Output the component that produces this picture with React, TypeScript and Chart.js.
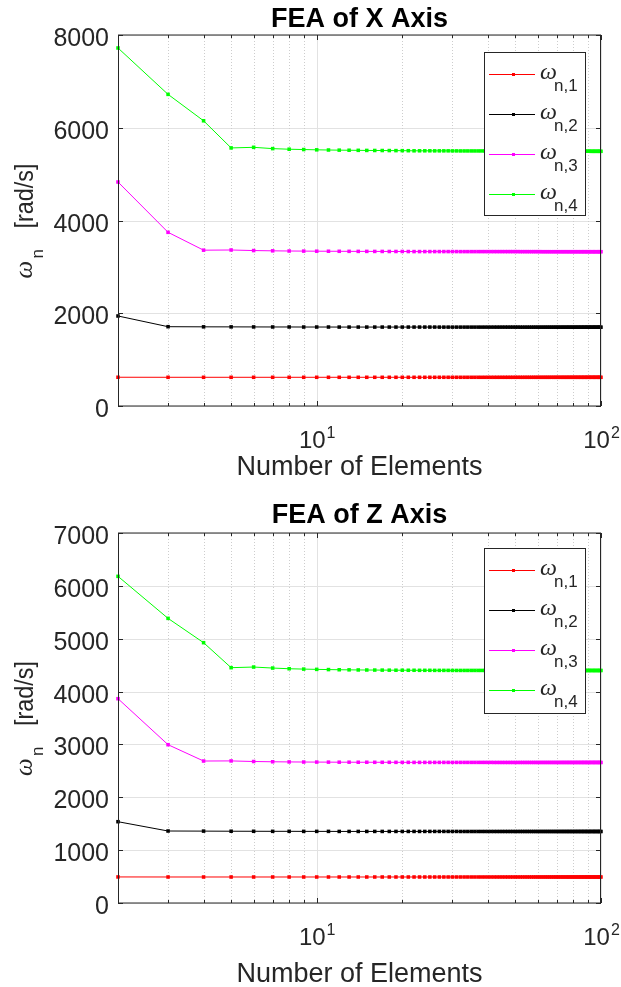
import React, { useEffect, useRef } from "react";
import { Chart, registerables } from "chart.js";

Chart.register(...registerables);

// ---------- data ----------
const elementCounts = [
  2, 3, 4, 5, 6, 7, 8, 9, 10, 11,
  12, 13, 14, 15, 16, 17, 18, 19, 20, 21,
  22, 23, 24, 25, 26, 27, 28, 29, 30, 31,
  32, 33, 34, 35, 36, 37, 38, 39, 40, 41,
  42, 43, 44, 45, 46, 47, 48, 49, 50, 51,
  52, 53, 54, 55, 56, 57, 58, 59, 60, 61,
  62, 63, 64, 65, 66, 67, 68, 69, 70, 71,
  72, 73, 74, 75, 76, 77, 78, 79, 80, 81,
  82, 83, 84, 85, 86, 87, 88, 89, 90, 91,
  92, 93, 94, 95, 96, 97, 98, 99, 100,
];

const xAxisWn1 = [
  620, 619, 619, 619, 619, 619, 619, 619, 619, 619,
  619, 619, 619, 619, 619, 619, 619, 619, 619, 619,
  619, 619, 619, 619, 619, 619, 619, 619, 619, 619,
  619, 619, 619, 619, 619, 619, 619, 619, 619, 619,
  619, 619, 619, 619, 619, 619, 619, 619, 619, 619,
  619, 619, 619, 619, 619, 619, 619, 619, 619, 619,
  619, 619, 619, 619, 619, 619, 619, 619, 619, 619,
  619, 619, 619, 619, 619, 619, 619, 619, 619, 619,
  619, 619, 619, 619, 619, 619, 619, 619, 619, 619,
  619, 619, 619, 619, 619, 619, 619, 619, 619,
];
const xAxisWn2 = [
  1941, 1710, 1707, 1706, 1705, 1704, 1704, 1703, 1703, 1703,
  1702, 1702, 1702, 1702, 1702, 1702, 1702, 1702, 1702, 1702,
  1702, 1702, 1702, 1702, 1702, 1701, 1701, 1701, 1701, 1701,
  1701, 1701, 1701, 1701, 1701, 1701, 1701, 1701, 1701, 1701,
  1701, 1701, 1701, 1701, 1701, 1701, 1701, 1701, 1701, 1701,
  1700, 1700, 1700, 1700, 1700, 1700, 1700, 1700, 1700, 1700,
  1700, 1700, 1700, 1700, 1700, 1700, 1700, 1700, 1700, 1700,
  1700, 1700, 1700, 1700, 1700, 1700, 1700, 1700, 1700, 1700,
  1700, 1700, 1700, 1700, 1700, 1700, 1700, 1700, 1700, 1700,
  1700, 1700, 1700, 1700, 1700, 1700, 1700, 1700, 1700,
];
const xAxisWn3 = [
  4830, 3745, 3360, 3364, 3352, 3346, 3342, 3340, 3338, 3337,
  3336, 3335, 3334, 3334, 3333, 3333, 3332, 3332, 3332, 3331,
  3330, 3330, 3330, 3330, 3330, 3330, 3330, 3330, 3330, 3330,
  3329, 3329, 3329, 3329, 3329, 3329, 3329, 3329, 3329, 3329,
  3329, 3329, 3329, 3329, 3329, 3329, 3329, 3329, 3329, 3329,
  3328, 3328, 3328, 3328, 3328, 3328, 3328, 3328, 3328, 3328,
  3327, 3327, 3327, 3327, 3327, 3327, 3327, 3327, 3327, 3327,
  3327, 3327, 3327, 3327, 3327, 3327, 3327, 3327, 3327, 3327,
  3327, 3327, 3327, 3327, 3327, 3327, 3327, 3327, 3327, 3327,
  3327, 3327, 3327, 3327, 3327, 3327, 3327, 3327, 3327,
];
const xAxisWn4 = [
  7720, 6720, 6150, 5565, 5578, 5550, 5537, 5530, 5524, 5520,
  5517, 5515, 5513, 5511, 5510, 5509, 5508, 5507, 5506, 5505,
  5503, 5503, 5503, 5503, 5502, 5502, 5502, 5502, 5501, 5501,
  5500, 5500, 5500, 5500, 5500, 5500, 5500, 5500, 5500, 5500,
  5498, 5498, 5498, 5498, 5498, 5498, 5498, 5498, 5498, 5498,
  5496, 5496, 5496, 5496, 5496, 5496, 5496, 5496, 5496, 5496,
  5495, 5495, 5495, 5495, 5495, 5495, 5495, 5495, 5495, 5495,
  5494, 5494, 5494, 5494, 5494, 5494, 5494, 5494, 5494, 5494,
  5493, 5493, 5493, 5493, 5493, 5493, 5493, 5493, 5493, 5493,
  5492, 5492, 5492, 5492, 5492, 5492, 5492, 5492, 5492,
];

const zAxisWn1 = [
  493, 492, 492, 492, 492, 492, 492, 492, 492, 492,
  492, 492, 492, 492, 492, 492, 492, 492, 492, 492,
  492, 492, 492, 492, 492, 492, 492, 492, 492, 492,
  492, 492, 492, 492, 492, 492, 492, 492, 492, 492,
  492, 492, 492, 492, 492, 492, 492, 492, 492, 492,
  492, 492, 492, 492, 492, 492, 492, 492, 492, 492,
  492, 492, 492, 492, 492, 492, 492, 492, 492, 492,
  492, 492, 492, 492, 492, 492, 492, 492, 492, 492,
  492, 492, 492, 492, 492, 492, 492, 492, 492, 492,
  492, 492, 492, 492, 492, 492, 492, 492, 492,
];
const zAxisWn2 = [
  1538, 1362, 1360, 1358, 1357, 1356, 1356, 1355, 1355, 1355,
  1354, 1354, 1354, 1354, 1354, 1354, 1354, 1354, 1354, 1354,
  1354, 1354, 1354, 1354, 1354, 1354, 1354, 1354, 1354, 1354,
  1353, 1353, 1353, 1353, 1353, 1353, 1353, 1353, 1353, 1353,
  1353, 1353, 1353, 1353, 1353, 1353, 1353, 1353, 1353, 1353,
  1353, 1353, 1353, 1353, 1353, 1353, 1353, 1353, 1353, 1353,
  1353, 1353, 1353, 1353, 1353, 1353, 1353, 1353, 1353, 1353,
  1353, 1353, 1353, 1353, 1353, 1353, 1353, 1353, 1353, 1353,
  1353, 1353, 1353, 1353, 1353, 1353, 1353, 1353, 1353, 1353,
  1353, 1353, 1353, 1353, 1353, 1353, 1353, 1353, 1353,
];
const zAxisWn3 = [
  3865, 2995, 2686, 2688, 2677, 2672, 2669, 2667, 2666, 2665,
  2664, 2664, 2663, 2663, 2662, 2662, 2662, 2661, 2661, 2661,
  2660, 2660, 2660, 2660, 2660, 2660, 2660, 2660, 2660, 2660,
  2660, 2660, 2660, 2660, 2660, 2660, 2660, 2660, 2660, 2660,
  2659, 2659, 2659, 2659, 2659, 2659, 2659, 2659, 2659, 2659,
  2659, 2659, 2659, 2659, 2659, 2659, 2659, 2659, 2659, 2659,
  2659, 2659, 2659, 2659, 2659, 2659, 2659, 2659, 2659, 2659,
  2659, 2659, 2659, 2659, 2659, 2659, 2659, 2659, 2659, 2659,
  2659, 2659, 2659, 2659, 2659, 2659, 2659, 2659, 2659, 2659,
  2659, 2659, 2659, 2659, 2659, 2659, 2659, 2659, 2659,
];
const zAxisWn4 = [
  6180, 5385, 4925, 4452, 4464, 4445, 4432, 4425, 4420, 4416,
  4413, 4411, 4409, 4408, 4407, 4406, 4405, 4404, 4404, 4403,
  4403, 4402, 4402, 4402, 4401, 4401, 4401, 4401, 4400, 4400,
  4400, 4400, 4400, 4400, 4400, 4400, 4400, 4400, 4400, 4400,
  4400, 4400, 4400, 4400, 4400, 4400, 4400, 4400, 4400, 4400,
  4399, 4399, 4399, 4399, 4399, 4399, 4399, 4399, 4399, 4399,
  4399, 4399, 4399, 4399, 4399, 4399, 4399, 4399, 4399, 4399,
  4399, 4399, 4399, 4399, 4399, 4399, 4399, 4399, 4399, 4399,
  4399, 4399, 4399, 4399, 4399, 4399, 4399, 4399, 4399, 4399,
  4399, 4399, 4399, 4399, 4399, 4399, 4399, 4399, 4399,
];

const xMajorTicks = [10, 100];
const xMajorExponents = ["1", "2"];
const xMinorTicks = [2, 3, 4, 5, 6, 7, 8, 9, 20, 30, 40, 50, 60, 70, 80, 90];
const yTicksXAxis = [0, 2000, 4000, 6000, 8000];
const yTicksZAxis = [0, 1000, 2000, 3000, 4000, 5000, 6000, 7000];
const seriesSubscripts = ["n,1", "n,2", "n,3", "n,4"];
const seriesColors = ["#ff0000", "#000000", "#ff00ff", "#00ff00"];

// ---------- styling ----------
const FONT = '"Liberation Sans", Arial, Helvetica, sans-serif';
const SERIF = '"Liberation Serif", "Times New Roman", serif';
const AXIS_COLOR = "#262626";

type Spec = {
  title: string;
  yMax: number;
  yTicks: number[];
  series: number[][];
  canvasHeight: number;
  padTop: number;
  padBottom: number;
  legendTop: number;
  legendHeight: number;
  titleGap: number;
  xLabelGap: number;
};

function makePlugin(spec: Spec) {
  return {
    id: "matlabStyle",
    beforeDatasetsDraw(chart: any) {
      const { ctx, chartArea: a, scales } = chart;
      const xs = scales.x;
      const ys = scales.y;
      ctx.save();
      ctx.lineWidth = 1;
      ctx.strokeStyle = "#e2e2e2";
      for (const v of spec.yTicks) {
        const y = Math.round(ys.getPixelForValue(v)) + 0.5;
        ctx.beginPath();
        ctx.moveTo(a.left, y);
        ctx.lineTo(a.right, y);
        ctx.stroke();
      }
      for (const v of xMajorTicks) {
        const x = Math.round(xs.getPixelForValue(v)) + 0.5;
        ctx.beginPath();
        ctx.moveTo(x, a.top);
        ctx.lineTo(x, a.bottom);
        ctx.stroke();
      }
      ctx.setLineDash([1, 2]);
      ctx.strokeStyle = "#cdcdcd";
      for (const v of xMinorTicks) {
        const x = Math.round(xs.getPixelForValue(v)) + 0.5;
        ctx.beginPath();
        ctx.moveTo(x, a.top);
        ctx.lineTo(x, a.bottom);
        ctx.stroke();
      }
      ctx.restore();
    },
    afterDatasetsDraw(chart: any) {
      const { ctx, chartArea: a, scales } = chart;
      const xs = scales.x;
      const ys = scales.y;
      ctx.save();
      ctx.lineWidth = 1;
      ctx.strokeStyle = AXIS_COLOR;
      ctx.setLineDash([]);

      // box
      const L = Math.round(a.left) + 0.5;
      const R = Math.round(a.right) - 0.5;
      ctx.beginPath();
      ctx.moveTo(L, a.top);
      ctx.lineTo(L, a.bottom);
      ctx.moveTo(R, a.top);
      ctx.lineTo(R, a.bottom);
      ctx.moveTo(a.left, a.top);
      ctx.lineTo(a.right, a.top);
      ctx.moveTo(a.left, a.bottom);
      ctx.lineTo(a.right, a.bottom);
      ctx.stroke();

      // x ticks (inward, bottom and top)
      const drawXTick = (v: number, len: number) => {
        const x = Math.round(xs.getPixelForValue(v)) + 0.5;
        ctx.beginPath();
        ctx.moveTo(x, a.bottom);
        ctx.lineTo(x, a.bottom - len);
        ctx.moveTo(x, a.top);
        ctx.lineTo(x, a.top + len);
        ctx.stroke();
      };
      xMinorTicks.forEach((v) => drawXTick(v, 3));
      xMajorTicks.forEach((v) => drawXTick(v, 5));

      // y ticks (inward, left and right)
      for (const v of spec.yTicks) {
        const y = Math.round(ys.getPixelForValue(v)) + 0.5;
        ctx.beginPath();
        ctx.moveTo(a.left, y);
        ctx.lineTo(a.left + 5, y);
        ctx.moveTo(a.right, y);
        ctx.lineTo(a.right - 5, y);
        ctx.stroke();
      }

      // y tick labels
      ctx.fillStyle = AXIS_COLOR;
      ctx.font = `25px ${FONT}`;
      ctx.textAlign = "right";
      ctx.textBaseline = "alphabetic";
      for (const v of spec.yTicks) {
        const y = ys.getPixelForValue(v);
        ctx.fillText(String(v), a.left - 9, y + 11);
      }

      // x tick labels 10^n
      ctx.textAlign = "left";
      xMajorTicks.forEach((v, i) => {
        const x = xs.getPixelForValue(v);
        ctx.font = `24px ${FONT}`;
        const wBase = ctx.measureText("10").width;
        ctx.font = `16px ${FONT}`;
        const wExp = ctx.measureText(xMajorExponents[i]).width;
        const start = x - (wBase + wExp) / 2;
        const base = a.bottom + 42;
        ctx.font = `24px ${FONT}`;
        ctx.fillText("10", start, base);
        ctx.font = `16px ${FONT}`;
        ctx.fillText(xMajorExponents[i], start + wBase + 1, base - 10);
      });

      // x axis label
      const cx = (a.left + a.right) / 2;
      ctx.textAlign = "center";
      ctx.font = `27px ${FONT}`;
      ctx.fillText("Number of Elements", cx, a.bottom + spec.xLabelGap);

      // title
      ctx.fillStyle = "#000000";
      ctx.font = `bold 27px ${FONT}`;
      ctx.fillText(spec.title, cx, a.top - spec.titleGap);

      // y axis label (rotated): ω_n [rad/s]
      const cy = (a.top + a.bottom) / 2;
      ctx.save();
      ctx.translate(33, cy);
      ctx.rotate(-Math.PI / 2);
      ctx.fillStyle = AXIS_COLOR;
      ctx.textAlign = "left";
      ctx.font = `italic 25px ${SERIF}`;
      ctx.fillText("ω", -58, -1);
      ctx.font = `17px ${FONT}`;
      ctx.fillText("n", -38, 10);
      ctx.save();
      ctx.translate(-8, 0);
      ctx.scale(0.9, 1);
      ctx.font = `26px ${FONT}`;
      ctx.fillText("[rad/s]", 0, 0);
      ctx.restore();
      ctx.restore();

      // legend
      const lx = Math.round(a.right) - 117;
      const ly = spec.legendTop;
      const lw = 101;
      const lh = spec.legendHeight;
      ctx.fillStyle = "#ffffff";
      ctx.fillRect(lx, ly, lw, lh);
      ctx.strokeStyle = AXIS_COLOR;
      ctx.lineWidth = 1;
      ctx.strokeRect(lx + 0.5, ly + 0.5, lw, lh);
      spec.series.forEach((_, i) => {
        const ry = Math.round(ly + 22 + i * 40) + 0.5;
        ctx.strokeStyle = seriesColors[i];
        ctx.beginPath();
        ctx.moveTo(lx + 5, ry);
        ctx.lineTo(lx + 51, ry);
        ctx.stroke();
        ctx.fillStyle = seriesColors[i];
        ctx.fillRect(lx + 28, ry - 1.5, 3, 3);
        ctx.fillStyle = AXIS_COLOR;
        ctx.textAlign = "left";
        ctx.font = `italic 24px ${SERIF}`;
        ctx.fillText("ω", lx + 56, ry + 4.5);
        ctx.font = `17px ${FONT}`;
        ctx.fillText(seriesSubscripts[i], lx + 70, ry + 16);
      });

      ctx.restore();
    },
  };
}

function FeaChart({ spec }: { spec: Spec }) {
  const ref = useRef<HTMLCanvasElement>(null);
  useEffect(() => {
    const canvas = ref.current;
    if (!canvas) return;
    const datasets = spec.series.map((vals, i) => ({
      label: seriesSubscripts[i],
      data: elementCounts.map((n, j) => ({ x: n, y: vals[j] })),
      borderColor: seriesColors[i],
      backgroundColor: seriesColors[i],
      pointBackgroundColor: seriesColors[i],
      borderWidth: 1,
      pointStyle: "rect",
      pointRadius: 2.5,
      pointBorderWidth: 0,
      pointHoverRadius: 2.5,
      tension: 0,
      clip: false,
    }));
    const chart = new Chart(canvas, {
      type: "line",
      data: { datasets } as any,
      options: {
        responsive: false,
        animation: false,
        events: [],
        layout: {
          padding: { left: 118, right: 20, top: spec.padTop, bottom: spec.padBottom },
        },
        scales: {
          x: { type: "logarithmic", min: 2, max: 100, display: false },
          y: { type: "linear", min: 0, max: spec.yMax, display: false },
        },
        plugins: {
          legend: { display: false },
          tooltip: { enabled: false },
          title: { display: false },
        },
      } as any,
      plugins: [makePlugin(spec) as any],
    });
    return () => chart.destroy();
  }, [spec]);
  return (
    <canvas
      ref={ref}
      width={621}
      height={spec.canvasHeight}
      style={{ display: "block", width: 621, height: spec.canvasHeight }}
    />
  );
}

const specX: Spec = {
  title: "FEA of X Axis",
  yMax: 8000,
  yTicks: yTicksXAxis,
  series: [xAxisWn1, xAxisWn2, xAxisWn3, xAxisWn4],
  canvasHeight: 493,
  padTop: 35,
  padBottom: 87,
  legendTop: 52,
  legendHeight: 163,
  titleGap: 8,
  xLabelGap: 69,
};

const specZ: Spec = {
  title: "FEA of Z Axis",
  yMax: 7000,
  yTicks: yTicksZAxis,
  series: [zAxisWn1, zAxisWn2, zAxisWn3, zAxisWn4],
  canvasHeight: 494,
  padTop: 40,
  padBottom: 84,
  legendTop: 55,
  legendHeight: 165,
  titleGap: 10,
  xLabelGap: 79,
};

export default function App() {
  return (
    <div
      style={{
        position: "absolute",
        left: 0,
        top: 0,
        width: 621,
        height: 987,
        background: "#ffffff",
      }}
    >
      <FeaChart spec={specX} />
      <FeaChart spec={specZ} />
    </div>
  );
}
